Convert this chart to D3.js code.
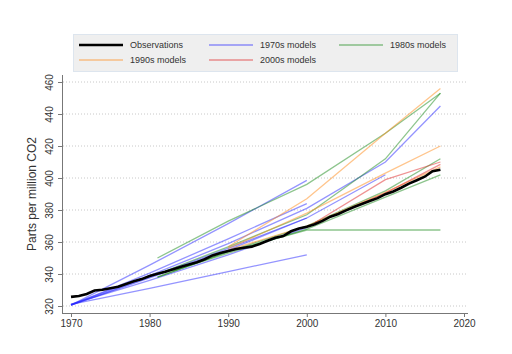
<!DOCTYPE html>
<html>
<head>
<meta charset="utf-8">
<script src="https://cdn.jsdelivr.net/npm/d3@7"></script>
<style>
  body { margin: 0; background: #fff; }
  text { font-family: "Liberation Sans", Arial, sans-serif; fill: #333; }
</style>
</head>
<body>
<div id="chart"></div>
<script>
// observed CO2 (annual means)
const obsYears = d3.range(1970, 2018);
const obsValues = [325.7, 326.3, 327.5, 329.7, 330.2, 331.1, 332.0, 333.8, 335.4, 336.8,
    338.7, 340.1, 341.4, 343.0, 344.6, 346.0, 347.4, 349.2, 351.6, 353.1,
    354.4, 355.6, 356.4, 357.1, 358.8, 360.8, 362.6, 363.7, 366.7, 368.4,
    369.6, 371.1, 373.2, 375.8, 377.5, 379.8, 381.9, 383.8, 385.6, 387.4,
    389.9, 391.6, 393.9, 396.5, 398.6, 400.8, 404.2, 405.2];

// model projections: [year, ppm] pairs per model
const models1970s = [
    [[1970, 320.5], [1980, 345.5], [1990, 371.5], [2000, 398.5]],
    [[1970, 320.5], [1980, 340.5], [1990, 362], [2000, 384]],
    [[1970, 320.5], [1980, 338], [1990, 356], [2000, 375]],
    [[1970, 321], [1980, 331], [1990, 341.5], [2000, 352]],
    [[1970, 321], [1980, 339], [1990, 359], [2000, 381], [2010, 410], [2017, 445]],
    [[1970, 320.5], [1980, 337.5], [1990, 355], [2000, 375], [2010, 402]],
    [[1970, 321], [1980, 336], [1990, 352], [2000, 369]]
];
const models1980s = [
    [[1981, 350], [1990, 373], [2000, 396], [2010, 428], [2017, 453]],
    [[1981, 340], [1990, 357], [2000, 377], [2010, 412], [2017, 453]],
    [[1981, 338], [1990, 354], [2000, 370], [2010, 392], [2017, 412]],
    [[1983, 342], [1990, 353], [2000, 368], [2010, 388], [2017, 402]],
    [[1981, 338], [1990, 354], [2000, 367.5], [2017, 367.5]]
];
const models1990s = [
    [[1990, 357], [2000, 387], [2010, 428], [2017, 456]],
    [[1990, 356], [2000, 378], [2010, 403], [2017, 420]],
    [[1990, 355], [2000, 370], [2010, 391], [2017, 407]]
];
const models2000s = [
    [[2000, 369.5], [2010, 390.5], [2017, 408.5]],
    [[2001, 372], [2010, 399], [2017, 410]]
];

const yTicks = [320, 340, 360, 380, 400, 420, 440, 460];
const xTicks = [1970, 1980, 1990, 2000, 2010, 2020];

const width = 512, height = 354;

const svg = d3.select("#chart").append("svg")
    .attr("width", width)
    .attr("height", height);

const x = d3.scaleLinear().domain([1970, 2020]).range([71, 464]);
const y = d3.scaleLinear().domain([320, 460]).range([306, 82]);

// dotted grid
svg.append("g")
    .selectAll("line")
    .data(yTicks)
    .enter().append("line")
    .attr("x1", 63).attr("x2", 467)
    .attr("y1", d => y(d)).attr("y2", d => y(d))
    .attr("stroke", "#c8c8c8")
    .attr("stroke-width", 1)
    .attr("stroke-dasharray", "1,2");

const line = d3.line()
    .x(d => x(d[0]))
    .y(d => y(d[1]));

function drawModels(data, color, opacity) {
    svg.append("g")
        .selectAll("path")
        .data(data)
        .enter().append("path")
        .attr("d", line)
        .attr("fill", "none")
        .attr("stroke", color)
        .attr("stroke-opacity", opacity)
        .attr("stroke-width", 1.3);
}

drawModels(models1970s, "#2a2aff", 0.5);
drawModels(models1980s, "#1c8c1c", 0.5);
drawModels(models1990s, "#ff8c1a", 0.5);
drawModels(models2000s, "#e02828", 0.5);

svg.append("path")
    .datum(obsYears.map((yr, i) => [yr, obsValues[i]]))
    .attr("d", line)
    .attr("fill", "none")
    .attr("stroke", "#000")
    .attr("stroke-width", 2.6);

// axes
const xAxis = svg.append("g")
    .attr("transform", "translate(0,313)")
    .call(d3.axisBottom(x).tickValues(xTicks).tickFormat(d3.format("d")).tickSizeOuter(0).tickSize(4));
xAxis.select(".domain").attr("d", "M62,0.5H468");
xAxis.selectAll("line").attr("stroke", "#777");
xAxis.select(".domain").attr("stroke", "#777");
xAxis.selectAll("text").style("font-size", "10px").attr("y", 7).attr("fill", "#333");

const yAxis = svg.append("g")
    .attr("transform", "translate(62,0)")
    .call(d3.axisLeft(y).tickValues(yTicks).tickSizeOuter(0).tickSize(4));
yAxis.select(".domain").attr("d", "M0.5,75V313").attr("stroke", "#777");
yAxis.selectAll("line").attr("stroke", "#777");
yAxis.selectAll("text")
    .style("font-size", "10px")
    .attr("fill", "#333")
    .attr("x", null).attr("dy", null)
    .attr("text-anchor", "middle")
    .attr("transform", "translate(-9,0) rotate(-90)");

svg.append("text")
    .attr("transform", `translate(36, ${y(390)}) rotate(-90)`)
    .attr("text-anchor", "middle")
    .style("font-size", "12px")
    .text("Parts per million CO2");

// legend
const legendData = [
    { label: "Observations", color: "#000", w: 2.6, opacity: 1 },
    { label: "1970s models", color: "#2a2aff", w: 1.5, opacity: 0.5 },
    { label: "1980s models", color: "#1c8c1c", w: 1.5, opacity: 0.5 },
    { label: "1990s models", color: "#ff8c1a", w: 1.5, opacity: 0.5 },
    { label: "2000s models", color: "#e02828", w: 1.5, opacity: 0.5 }
];

const legend = svg.append("g");
legend.append("rect")
    .attr("x", 73.5).attr("y", 34.5)
    .attr("width", 384).attr("height", 37)
    .attr("fill", "#efefef")
    .attr("stroke", "#dde5ee");

const items = legend.selectAll(".legend-item")
    .data(legendData)
    .enter().append("g")
    .attr("transform", (d, i) => `translate(${79 + (i % 3) * 130}, ${45 + Math.floor(i / 3) * 15})`);

items.append("line")
    .attr("x1", 0).attr("x2", 44)
    .attr("stroke", d => d.color)
    .attr("stroke-opacity", d => d.opacity)
    .attr("stroke-width", d => d.w);

items.append("text")
    .attr("x", 51).attr("dy", "0.35em")
    .style("font-size", "9px")
    .text(d => d.label);
</script>
</body>
</html>
